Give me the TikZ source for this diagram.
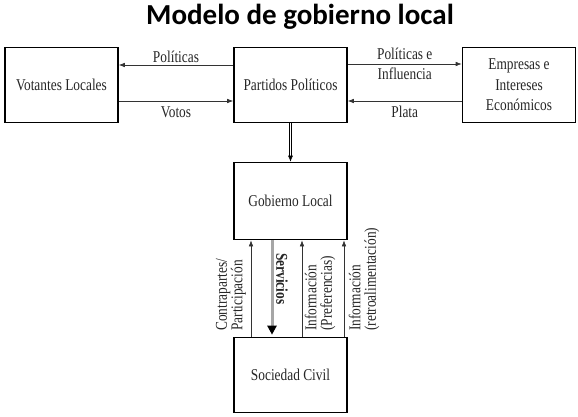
\documentclass[tikz,border=0pt]{standalone}
\usepackage{fontspec}
\setmainfont[FakeStretch=0.81]{Liberation Serif}
\newfontfamily\titlefont{Carlito}
\usetikzlibrary{positioning,calc,arrows.meta}

\tikzset{
  box/.style={draw, line width=1.6pt, shape=rectangle, minimum width=113pt, minimum height=75pt, align=center, text=black!85, font=\fontsize{16.5}{19}\selectfont},
  arr/.style={-{Latex[length=6pt,width=4.5pt]}, line width=0.6pt, black!80},
  lbl/.style={inner sep=2pt, text=black!85, font=\fontsize{16.5}{15.5}\selectfont},
}

\begin{document}
\begin{tikzpicture}[x=1pt, y=-1pt]
\useasboundingbox (0,0) rectangle (578,416);

\path (300, 17) node[font=\titlefont\bfseries\fontsize{29}{32}\selectfont] (title) {Modelo de gobierno local};

\path (61.5, 85) node[box] (votantes) {Votantes Locales};
\path (290.5, 85) node[box] (partidos) {Partidos Políticos};
\path (519, 85) node[box, font=\fontsize{16.5}{20.5}\selectfont] (empresas) {Empresas e\\Intereses\\Económicos};
\path (290.5, 201) node[box, minimum height=77pt] (gobierno) {Gobierno Local};
\path (290.5, 375) node[box] (sociedad) {Sociedad Civil};

\draw[arr] ([yshift=20pt]partidos.west) -- node[lbl, above] (politicas) {Políticas} ([yshift=20pt]votantes.east);
\draw[arr] ([yshift=-16pt]votantes.east) -- node[lbl, below, yshift=-3pt] (votos) {Votos} ([yshift=-16pt]partidos.west);
\draw[arr] ([yshift=21pt]partidos.east) -- node[lbl, align=center, font=\fontsize{16.5}{19.5}\selectfont] (influencia) {Políticas e\\Influencia} ([yshift=21pt]empresas.west);
\draw[arr] ([yshift=-16pt]empresas.west) -- node[lbl, below, yshift=-3pt] (plata) {Plata} ([yshift=-16pt]partidos.east);

\draw[line width=0.6pt, double distance=1.6pt, shorten >=5pt] (partidos) -- (gobierno);
\draw[-{Latex[length=6pt,width=5pt]}, line width=0.6pt] ([yshift=6pt]gobierno.north) -- (gobierno.north);

\coordinate (c1) at (251, 0);
\coordinate (c2) at (272, 0);
\coordinate (c3) at (302, 0);
\coordinate (c4) at (344, 0);
\draw[arr] (c1 |- sociedad.north) -- (c1 |- gobierno.south);
\draw[line width=3pt, gray!70, shorten >=2pt, -{Triangle[length=9pt, width=9pt, black]}] (c2 |- gobierno.south) -- (c2 |- sociedad.north);
\draw[arr] (c3 |- sociedad.north) -- (c3 |- gobierno.south);
\draw[arr] (c4 |- sociedad.north) -- (c4 |- gobierno.south);

\path (231, 333) node[lbl, rotate=90, anchor=west, align=left] (contra) {Contrapartes/\\Participación};
\path (282, 251) node[lbl, rotate=-90, anchor=west, font=\bfseries\fontsize{16.5}{15.5}\selectfont] (servicios) {Servicios};
\path (320, 333) node[lbl, rotate=90, anchor=west, align=left] (pref) {Información\\(Preferencias)};
\path (364, 333) node[lbl, rotate=90, anchor=west, align=left] (retro) {Información\\(retroalimentación)};
\end{tikzpicture}
\end{document}
